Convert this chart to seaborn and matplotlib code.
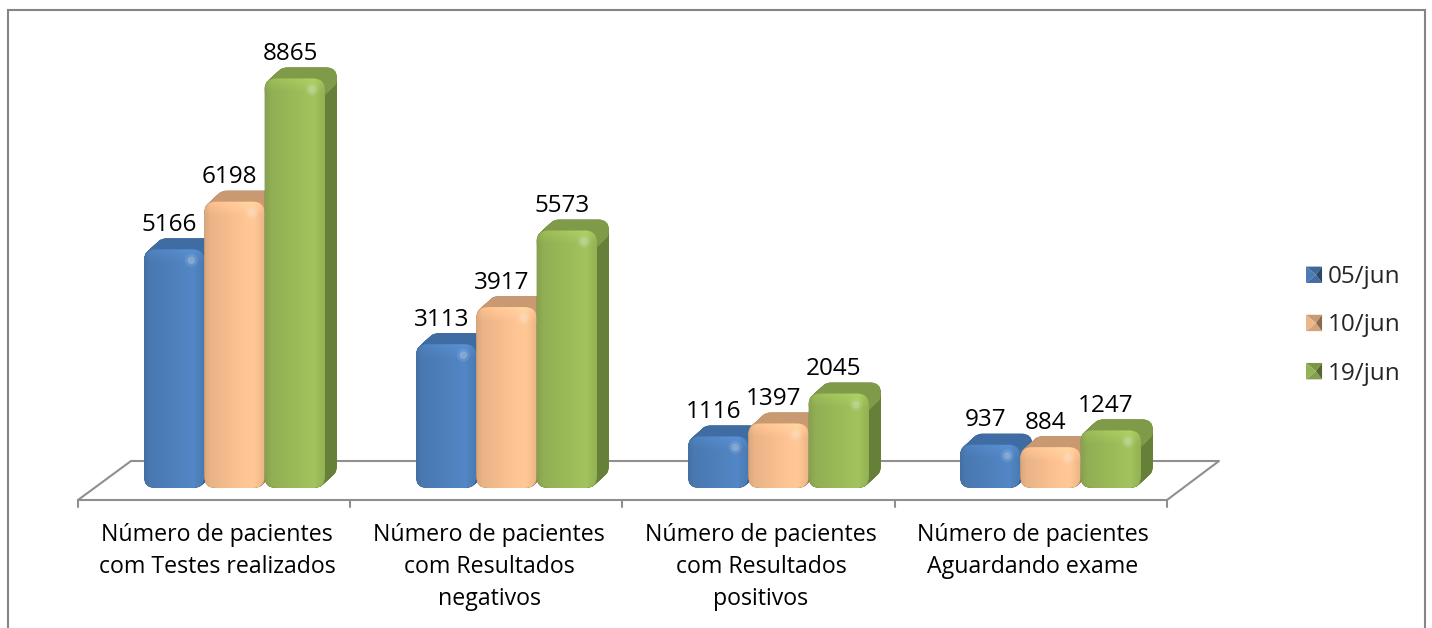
import numpy as np
import pandas as pd
import matplotlib
matplotlib.use("Agg")
import matplotlib.pyplot as plt
from matplotlib.patches import FancyBboxPatch, Polygon
from matplotlib.legend_handler import HandlerBase
import seaborn as sns

categories = ["Número de pacientes\ncom Testes realizados",
              "Número de pacientes\ncom Resultados\nnegativos",
              "Número de pacientes\ncom Resultados\npositivos",
              "Número de pacientes\nAguardando exame"]
dates = ["05/jun", "10/jun", "19/jun"]
values_0506 = [5166, 3113, 1116, 937]
values_1006 = [6198, 3917, 1397, 884]
values_1906 = [8865, 5573, 2045, 1247]

colors = ["#4f81bd", "#fac090", "#9bbb59"]
top_cols = ["#3f6ca3", "#c99a72", "#7f9a48"]
side_cols = ["#36608f", "#a97f5c", "#66803a"]

W, H = 1432, 628
FONT = "Open Sans"
FS_TICK = 16.7
FS_VAL = 17.5
sns.set_theme(style="white")
plt.rcParams["font.family"] = [FONT, "DejaVu Sans"]

df = pd.DataFrame({
    "cat": categories * 3,
    "date": [d for d in dates for _ in categories],
    "value": values_0506 + values_1006 + values_1906,
})

fig = plt.figure(figsize=(W / 100, H / 100), dpi=100, facecolor="white")

def rect(x0, ytop, x1, ybot):
    return [x0 / W, 1 - ybot / H, (x1 - x0) / W, (ybot - ytop) / H]

bg = fig.add_axes([0, 0, 1, 1], zorder=0)
bg.set_xlim(0, W); bg.set_ylim(H, 0); bg.axis("off")
grey = "#8f8f8f"
bg.plot([8, 8, 1425, 1425], [H + 5, 10, 10, H + 5], color="#858585", lw=1.5, solid_joinstyle="miter")
bg.plot([78, 131, 1219, 1167, 78], [500, 461, 461, 500, 500], color=grey, lw=1.5)
for px in [78, 350, 622, 895, 1167]:
    bg.plot([px, px], [500, 507], color=grey, lw=1.5)

# data axes: 0 at y=488 px
ymax = 10000
PX = 0.0462
ax = fig.add_axes(rect(78, 488 - ymax * PX, 1167, 488), zorder=1)
ax.patch.set_visible(False)
sns.barplot(data=df, x="cat", y="value", hue="date", order=categories, hue_order=dates,
            palette=colors, saturation=1, width=181 / 272, gap=0, dodge=True, ax=ax, legend=False)
ax.set_xlim((78 - 234.5) / 272, (1167 - 234.5) / 272)
ax.set_ylim(0, ymax)
ax.set_xlabel(""); ax.set_ylabel(""); ax.set_yticks([])
for s in ax.spines.values():
    s.set_visible(False)
ax.set_xticks(np.arange(4) - 17.5 / 272, categories, fontsize=FS_TICK, linespacing=1.46)
ax.tick_params(axis="x", length=0, pad=25, colors="black")

ov = fig.add_axes([0, 0, 1, 1], zorder=2)
ov.set_xlim(0, W); ov.set_ylim(H, 0); ov.axis("off")

def rounded(x0, y0, x1, y1, r, **kw):
    return FancyBboxPatch((x0 + r, y0 + r), x1 - x0 - 2 * r, y1 - y0 - 2 * r,
                          boxstyle=f"round,pad={r},rounding_size={r}", mutation_aspect=1, **kw)

DX, DY = 12, 11
fig.canvas.draw()
to_px = lambda x, y: (ax.transData.transform((x, y)) * [1, -1] + [0, H])

series = [values_0506, values_1006, values_1906]
for cont_i, cont in enumerate(ax.containers):
    c = colors[cont_i]
    base = np.array(matplotlib.colors.to_rgb(c))
    for cat_i, bar in enumerate(cont.patches):
        val = series[cont_i][cat_i]
        x, w = bar.get_x(), bar.get_width()
        (x0, yb), (x1, yt) = to_px(x, 0), to_px(x + w, val)
        r = min(12, (yb - yt) / 2.2)
        z = 10 + cat_i * 10 + cont_i * 3
        for t in np.linspace(0, 1, 24):
            ov.add_patch(rounded(x0 + DX * t, yt - DY * t, x1 + DX * t, yb - DY * t, r * .9,
                                 fc=side_cols[cont_i], ec="none", zorder=z))
        for t in np.linspace(0, 1, 24):
            ov.add_patch(rounded(x0 + DX * t, yt - DY * t, x1 + DX * t, yt - DY * t + 2 * r * .9, r * .9,
                                 fc=top_cols[cont_i], ec="none", zorder=z + 0.5))
        clip = rounded(x0, yt, x1, yb, r, fc="none", ec="none", transform=ov.transData)
        ov.add_patch(clip); clip.set_zorder(z + 1)
        nx, ny = 60, max(int(yb - yt), 2)
        u = np.linspace(0, 1, nx)[None, :, None]
        v = (np.arange(ny) + .5)[:, None, None]
        horiz = (0.92 + 0.12 * np.clip(u / 0.78, 0, 1)
                 - 0.10 * np.clip((u - 0.82) / 0.18, 0, 1)
                 - 0.05 * np.clip(1 - u / 0.1, 0, 1))
        bevel = 1 + 0.08 * np.clip(1 - v / 14, 0, 1)
        img = np.clip(base[None, None, :] * horiz * bevel, 0, 1)
        im = ov.imshow(img, extent=(x0, x1, yb, yt), aspect="auto", zorder=z + 2, interpolation="bilinear")
        im.set_clip_path(clip)
        hl = np.clip(base * 0.55 + 0.45, 0, 1)
        ov.scatter([x1 - 13], [yt + 11], s=90, color=hl, edgecolors="none", alpha=.22, zorder=z + 3)
        ov.scatter([x1 - 13], [yt + 11], s=30, color=hl, edgecolors="none", alpha=.55, zorder=z + 3)
        bar.set_clip_path(rounded(x0, yt, x1, yb, r, transform=ov.transData))
        ax.annotate(str(val), (x + w / 2, val), xytext=(-3.5, 24.5 * 0.72), textcoords="offset points",
                    ha="center", va="center", fontsize=FS_VAL, color="black", annotation_clip=False)
ov.set_xlim(0, W); ov.set_ylim(H, 0)

class Pyramid(HandlerBase):
    def create_artists(self, legend, h, xd, yd, width, height, fontsize, trans):
        c = np.array(matplotlib.colors.to_rgb(h.get_facecolor()))
        x0, y0 = -xd, -yd
        x1, y1 = x0 + width, y0 + height
        cx, cy = (x0 + x1) / 2 + width * .12, (y0 + y1) / 2
        faces = [([(x0, y0), (x1, y0), (cx, cy)], c * .85),
                 ([(x0, y1), (x1, y1), (cx, cy)], c * .8),
                 ([(x0, y0), (x0, y1), (cx, cy)], c * .95),
                 ([(x1, y0), (x1, y1), (cx, cy)], c * .55)]
        return [Polygon(p, closed=True, fc=np.clip(col, 0, 1), ec="none", transform=trans) for p, col in faces]

handles = [cont.patches[0] for cont in ax.containers]
leg = ax.legend(handles, dates, handler_map={type(handles[0]): Pyramid()}, frameon=False, fontsize=FS_VAL,
                loc="center left", bbox_to_anchor=(1306 / W, 1 - 325.5 / H), bbox_transform=fig.transFigure,
                handlelength=0.66, handleheight=0.66, handletextpad=0.25, labelspacing=0.995, borderpad=0, borderaxespad=0)

fig.savefig("out.png", dpi=100, facecolor="white")
